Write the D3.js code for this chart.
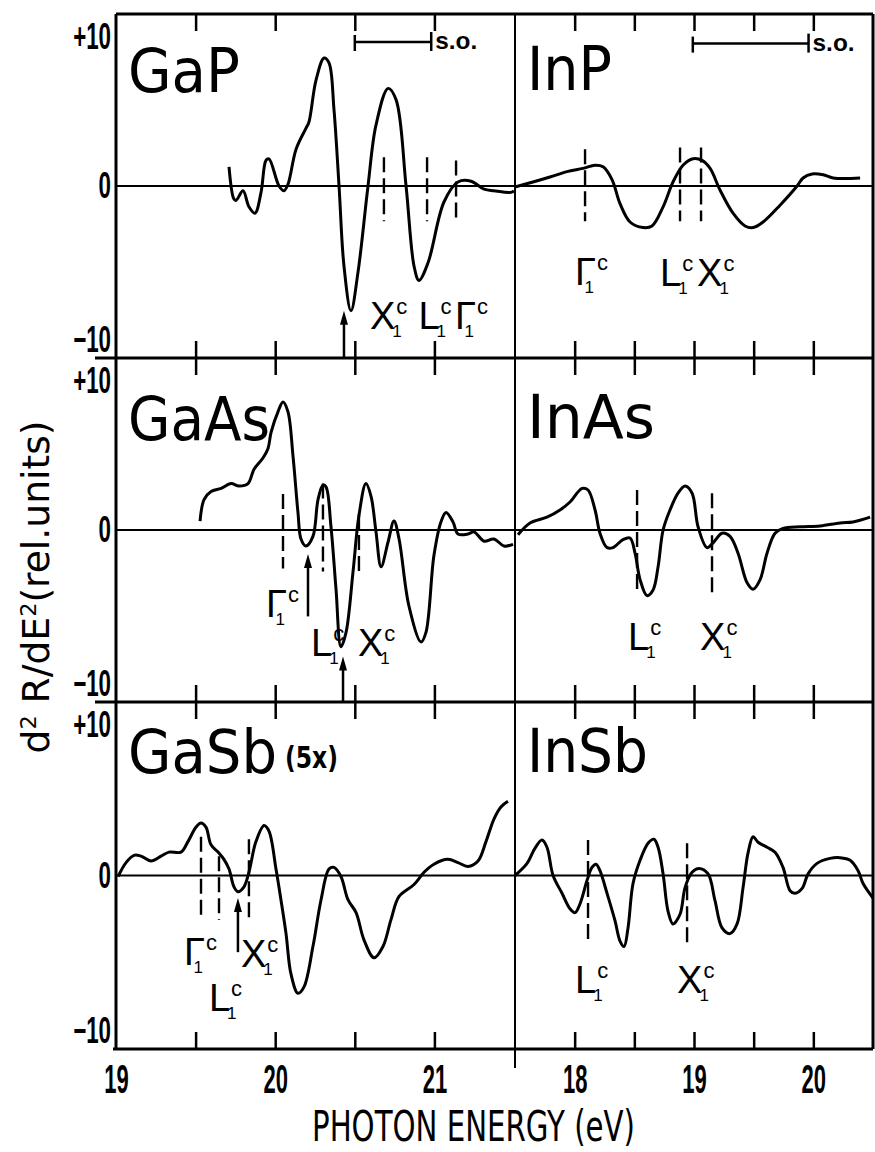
<!DOCTYPE html>
<html>
<head>
<meta charset="utf-8">
<script src="https://cdn.jsdelivr.net/npm/d3@7"></script>
<style>
  body { margin: 0; background: #fff; }
</style>
</head>
<body>
<div id="chart"></div>
<script>
// energy ranges (eV) and y range (rel. units)
const leftRange = [19, 21.5];
const rightRange = [17.5, 20.5];
const yRange = [-10.75, 10.75];
const leftTicks = [19.5, 20, 20.5, 21];
const rightTicks = [18, 18.5, 19, 19.5, 20];
const leftLabels = [19, 20, 21];
const rightLabels = [18, 19, 20];
const yLabels = [-10, 0, 10];

// curves [eV, d2R/dE2]
const gapCurve = [[19.71,1.2],[19.74,-0.8],[19.754,-0.9],[19.798,-0.3],[19.835,-1.3],[19.873,-1.7],[19.911,-0.4],[19.942,1.6],[19.961,1.7],[20.024,0],[20.055,-0.3],[20.08,0.1],[20.131,2.3],[20.193,3.6],[20.212,4.0],[20.256,6.6],[20.307,8.0],[20.338,7.7],[20.369,4.8],[20.401,0],[20.432,-5],[20.476,-7.8],[20.52,-5.4],[20.583,0],[20.633,3.8],[20.709,6.1],[20.759,5.4],[20.822,0],[20.872,-5],[20.903,-5.9],[20.96,-4.8],[21.06,-1.0],[21.148,0.25],[21.23,0.3],[21.312,-0.2],[21.374,-0.3],[21.481,-0.4],[21.5,-0.3]];
const inpCurve = [[17.5,-0.06],[17.651,0.25],[17.793,0.56],[17.936,0.9],[18.07,1.1],[18.171,1.3],[18.238,1.2],[18.313,0.4],[18.38,-1.1],[18.464,-2.25],[18.573,-2.6],[18.648,-2.5],[18.741,-1.3],[18.824,0.25],[18.908,1.3],[18.992,1.7],[19.067,1.6],[19.135,1.1],[19.218,-0.25],[19.327,-1.7],[19.428,-2.5],[19.495,-2.6],[19.579,-2.25],[19.721,-1.2],[19.864,0],[19.914,0.5],[19.99,0.75],[20.082,0.7],[20.166,0.5],[20.392,0.5]];
const gaasCurve = [[19.528,0.56],[19.553,1.9],[19.597,2.4],[19.66,2.6],[19.722,2.9],[19.773,2.75],[19.829,2.9],[19.867,3.8],[19.923,4.5],[19.955,5.1],[19.974,6.1],[20.018,7.4],[20.049,8.0],[20.08,7.4],[20.112,4.6],[20.143,1.1],[20.162,-0.56],[20.193,-1.0],[20.237,-0.4],[20.269,1.9],[20.3,2.8],[20.319,2.7],[20.35,0.25],[20.382,-3.7],[20.413,-7.3],[20.445,-6.4],[20.489,-2.6],[20.526,0.9],[20.57,2.9],[20.602,2.1],[20.633,-0.1],[20.665,-2.3],[20.709,-0.75],[20.746,0.56],[20.778,-0.56],[20.84,-4.75],[20.916,-7.0],[20.947,-6.4],[20.997,-1.6],[21.041,0.5],[21.073,1.1],[21.117,0.5],[21.148,-0.25],[21.211,-0.25],[21.249,-0.12],[21.312,-0.7],[21.374,-0.56],[21.437,-1.0],[21.494,-0.9]];
const inasCurve = [[17.525,-0.3],[17.626,0.44],[17.768,0.8],[17.877,1.25],[17.961,1.75],[18.062,2.6],[18.112,2.5],[18.171,1.25],[18.212,-0.2],[18.271,-1.1],[18.321,-1.1],[18.405,-0.6],[18.464,-0.5],[18.506,-1.45],[18.548,-3.1],[18.606,-4.1],[18.657,-3.75],[18.699,-2.3],[18.741,0],[18.799,1.25],[18.866,2.3],[18.925,2.75],[18.984,2.3],[19.034,0.2],[19.109,-1.1],[19.16,-0.8],[19.235,-0.2],[19.302,-0.4],[19.369,-1.45],[19.445,-3.3],[19.495,-3.7],[19.554,-3.1],[19.612,-1.45],[19.679,-0.2],[19.746,0.1],[19.889,0.2],[20.057,0.25],[20.224,0.44],[20.333,0.5],[20.476,0.8]];
const gasbCurve = [[19.013,-0.06],[19.063,0.8],[19.113,1.25],[19.157,1.2],[19.22,0.9],[19.283,1.2],[19.333,1.45],[19.408,1.45],[19.452,2.1],[19.503,3.0],[19.534,3.25],[19.565,3.0],[19.597,1.9],[19.641,1.45],[19.678,1.0],[19.71,0.4],[19.741,-0.7],[19.766,-1.0],[19.804,-0.7],[19.835,0.2],[19.879,2.1],[19.93,3.1],[19.961,2.75],[20.005,0.4],[20.036,-1.5],[20.068,-3.6],[20.099,-6.1],[20.143,-7.3],[20.181,-6.9],[20.237,-4.4],[20.288,-1.5],[20.338,0.4],[20.369,0.5],[20.413,-0.06],[20.457,-1.5],[20.508,-2.3],[20.558,-4.0],[20.621,-5.1],[20.677,-4.4],[20.727,-2.75],[20.778,-1.3],[20.872,-0.56],[20.935,0.2],[20.997,0.7],[21.085,1.0],[21.148,0.8],[21.211,0.56],[21.274,0.9],[21.324,2.1],[21.374,3.5],[21.418,4.25],[21.462,4.6]];
const insbCurve = [[17.5,0],[17.601,0.75],[17.668,1.7],[17.726,2.2],[17.768,1.75],[17.819,0],[17.894,-1.1],[17.961,-2.06],[18.003,-2.3],[18.045,-1.75],[18.104,-0.3],[18.145,0.5],[18.179,0.7],[18.212,0.3],[18.271,-1.1],[18.338,-2.8],[18.38,-4.06],[18.414,-4.4],[18.447,-3.25],[18.489,-0.5],[18.548,0.94],[18.615,2.0],[18.665,2.25],[18.699,1.75],[18.741,0.1],[18.782,-2.2],[18.824,-3.0],[18.883,-2.4],[18.925,-0.75],[18.984,0.2],[19.042,0.44],[19.118,0.1],[19.176,-1.56],[19.235,-3.25],[19.302,-3.6],[19.361,-3.0],[19.411,-0.75],[19.453,1.4],[19.495,2.4],[19.537,2.06],[19.612,1.75],[19.679,1.44],[19.746,0.5],[19.805,-0.94],[19.847,-1.1],[19.906,-0.8],[19.956,0.1],[20.031,0.75],[20.14,1.06],[20.224,1.1],[20.308,0.94],[20.375,0.3],[20.417,-0.5],[20.5,-1.4]];

// dashed markers [eV, top, bottom]
const gapDashes = [[20.683,1.8,-2.2],[20.954,1.8,-2.2],[21.136,1.6,-2.2]];
const inpDashes = [[18.087,2.3,-2.2],[18.883,2.4,-2.2],[19.059,2.4,-2.2]];
const gaasDashes = [[20.049,2.25,-2.4],[20.3,2.9,-2.6],[20.526,1.0,-2.6]];
const inasDashes = [[18.523,2.5,-4.06],[19.151,2.3,-4.06]];
const gasbDashes = [[19.534,2.4,-2.75],[19.647,1.2,-2.75],[19.835,2.25,-2.75]];
const insbDashes = [[18.112,2.2,-4.2],[18.942,2.0,-4.2]];

// arrows [eV, tail, head]
const gapArrows = [[20.432,-10.75,-7.8]];
const gaasArrows = [[20.206,-5.4,-1.5],[20.426,-10.75,-7.9]];
const gasbArrows = [[19.766,-4.75,-1.4]];

// critical point labels [letter, eV, baseline value]
const gapMarks = [["X",20.595,-8.94],["L",20.9,-8.94],["Γ",21.13,-8.94]];
const inpMarks = [["Γ",18.003,-6.2],["L",18.715,-6.25],["X",19.026,-6.25]];
const gaasMarks = [["Γ",19.942,-5.44],["L",20.225,-7.9],["X",20.52,-7.9]];
const inasMarks = [["L",18.447,-7.5],["X",19.051,-7.5]];
const gasbMarks = [["Γ",19.427,-5.56],["L",19.584,-8.4],["X",19.785,-5.7]];
const insbMarks = [["L",18.003,-7.3],["X",18.858,-7.3]];

// spin-orbit bars [start eV, end eV, level]
const gapSO = [20.5, 20.98, 9.0];
const inpSO = [18.99, 19.96, 8.9];

const svg = d3.select("#chart")
    .append("svg")
    .attr("width", 875)
    .attr("height", 1152)
    .style("font-family", "'Liberation Sans', Arial, sans-serif");

const xL = d3.scaleLinear().domain(leftRange).range([116, 514]);
const xR = d3.scaleLinear().domain(rightRange).range([515, 873]);
const rowTops = [14, 358, 702];
const rowBots = [358, 702, 1049];
const yRow = rowTops.map((t, i) => d3.scaleLinear().domain(yRange).range([rowBots[i], t]));

const panels = [
    { name: "GaP", row: 0, x: xL, curve: gapCurve, dashes: gapDashes, arrows: gapArrows, marks: gapMarks, so: gapSO, len: 112, dy: 78 },
    { name: "InP", row: 0, x: xR, curve: inpCurve, dashes: inpDashes, arrows: [], marks: inpMarks, so: inpSO, len: 85, dy: 76 },
    { name: "GaAs", row: 1, x: xL, curve: gaasCurve, dashes: gaasDashes, arrows: gaasArrows, marks: gaasMarks, len: 142, dy: 82 },
    { name: "InAs", row: 1, x: xR, curve: inasCurve, dashes: inasDashes, arrows: [], marks: inasMarks, len: 128, dy: 80 },
    { name: "GaSb", row: 2, x: xL, curve: gasbCurve, dashes: gasbDashes, arrows: gasbArrows, marks: gasbMarks, len: 149, dy: 71 },
    { name: "InSb", row: 2, x: xR, curve: insbCurve, dashes: insbDashes, arrows: [], marks: insbMarks, len: 121, dy: 70 }
];

// Frame
const frame = svg.append("g").attr("stroke", "#000").attr("fill", "none");
frame.append("line").attr("x1", 116).attr("x2", 116).attr("y1", 14).attr("y2", 1049).attr("stroke-width", 3);
frame.append("line").attr("x1", 116).attr("x2", 873).attr("y1", 14).attr("y2", 14).attr("stroke-width", 3);
frame.append("line").attr("x1", 873).attr("x2", 873).attr("y1", 14).attr("y2", 1049).attr("stroke-width", 3);
frame.append("line").attr("x1", 113).attr("x2", 873).attr("y1", 1049).attr("y2", 1049).attr("stroke-width", 3);
[358, 702].forEach(y => {
    frame.append("line").attr("x1", 95).attr("x2", 873).attr("y1", y).attr("y2", y).attr("stroke-width", 3);
});
frame.append("line").attr("x1", xR(17.5)).attr("x2", xR(17.5)).attr("y1", 14).attr("y2", 1068).attr("stroke-width", 2);

// Zero lines
yRow.forEach(y => {
    frame.append("line").attr("x1", 116).attr("x2", 873)
        .attr("y1", y(0)).attr("y2", y(0)).attr("stroke-width", 2.2);
});

// Inward ticks on every panel border
[[xL, leftTicks], [xR, rightTicks]].forEach(([x, tv]) => {
    rowTops.forEach((t, i) => {
        svg.append("g")
            .attr("transform", `translate(0, ${t})`)
            .call(d3.axisBottom(x).tickValues(tv).tickSize(17).tickFormat(""))
            .call(g => g.select(".domain").remove())
            .selectAll("line").attr("stroke-width", 2.5);
        svg.append("g")
            .attr("transform", `translate(0, ${rowBots[i]})`)
            .call(d3.axisTop(x).tickValues(tv).tickSize(17).tickFormat(""))
            .call(g => g.select(".domain").remove())
            .selectAll("line").attr("stroke-width", 2.5);
    });
});

// Bottom energy labels
[[xL, leftLabels], [xR, rightLabels]].forEach(([x, tv]) => {
    svg.append("g")
        .attr("transform", "translate(0, 1049)")
        .call(d3.axisBottom(x).tickValues(tv).tickSize(0).tickPadding(16).tickFormat(d3.format("d")))
        .call(g => g.select(".domain").remove())
        .selectAll("text")
        .attr("font-family", "'Liberation Sans', Arial, sans-serif")
        .attr("font-size", 40)
        .attr("font-weight", "bold")
        .attr("fill", "#000")
        .attr("transform", "scale(0.55,1)");
});

// y labels per row
yRow.forEach(y => {
    svg.append("g")
        .attr("transform", "translate(111, 0)")
        .call(d3.axisLeft(y).tickValues(yLabels).tickSize(0).tickPadding(0)
            .tickFormat(d => d > 0 ? "+10" : d < 0 ? "\u221210" : "0"))
        .call(g => g.select(".domain").remove())
        .selectAll("text")
        .attr("font-family", "'Liberation Sans', Arial, sans-serif")
        .attr("font-size", 36)
        .attr("font-weight", "bold")
        .attr("fill", "#000")
        .attr("dy", d => d > 0 ? "0.62em" : d < 0 ? "0.15em" : "0.32em")
        .attr("transform", "scale(0.62,1)");
});

// Panels
const line = d3.line().curve(d3.curveCatmullRom.alpha(0.5));

panels.forEach(p => {
    const x = p.x, y = yRow[p.row];
    const g = svg.append("g");

    g.append("path")
        .attr("d", line.x(d => x(d[0])).y(d => y(d[1]))(p.curve))
        .attr("fill", "none")
        .attr("stroke", "#000")
        .attr("stroke-width", 3)
        .attr("stroke-linejoin", "round");

    g.selectAll(".dash")
        .data(p.dashes)
        .enter()
        .append("line")
        .attr("class", "dash")
        .attr("x1", d => x(d[0])).attr("x2", d => x(d[0]))
        .attr("y1", d => y(d[1])).attr("y2", d => y(d[2]))
        .attr("stroke", "#000")
        .attr("stroke-width", 2.4)
        .attr("stroke-dasharray", "15,6");

    p.arrows.forEach(a => {
        const ax = x(a[0]), yh = y(a[2]);
        g.append("line")
            .attr("x1", ax).attr("x2", ax)
            .attr("y1", y(a[1])).attr("y2", yh + 8)
            .attr("stroke", "#000").attr("stroke-width", 2.5);
        g.append("path")
            .attr("d", `M${ax},${yh} L${ax - 4},${yh + 14} L${ax + 4},${yh + 14} Z`)
            .attr("fill", "#000");
    });

    p.marks.forEach(m => {
        const bx = x(m[1]), by = y(m[2]);
        const t = g.append("text").attr("x", bx).attr("y", by)
            .attr("font-size", 38).attr("fill", "#000").text(m[0]);
        const w = t.node().getComputedTextLength();
        g.append("text").attr("x", bx + w + 1).attr("y", by - 15)
            .attr("font-size", 22).attr("fill", "#000").text("c");
        g.append("text").attr("x", m[0] === "Γ" ? bx + w * 0.45 : bx + w - 3).attr("y", by + 8)
            .attr("font-size", 17).attr("fill", "#000").text("1");
    });

    if (p.so) {
        const s0 = x(p.so[0]), s1 = x(p.so[1]), sy = y(p.so[2]);
        g.append("line").attr("x1", s0).attr("x2", s1).attr("y1", sy).attr("y2", sy)
            .attr("stroke", "#000").attr("stroke-width", 2.5);
        g.append("line").attr("x1", s0).attr("x2", s0).attr("y1", sy - 7).attr("y2", sy + 9)
            .attr("stroke", "#000").attr("stroke-width", 2.5);
        g.append("line").attr("x1", s1).attr("x2", s1).attr("y1", sy - 10).attr("y2", sy + 9)
            .attr("stroke", "#000").attr("stroke-width", 2.5);
        g.append("text").attr("x", s1 + 4).attr("y", sy + 7)
            .attr("font-size", 24).attr("font-weight", "bold")
            .attr("textLength", 42).attr("lengthAdjust", "spacingAndGlyphs")
            .text("s.o.");
    }

    // panel name
    g.append("text")
        .attr("x", x.range()[0] + 12)
        .attr("y", rowTops[p.row] + p.dy)
        .attr("font-family", "'DejaVu Sans', sans-serif")
        .attr("font-size", 60)
        .attr("textLength", p.len)
        .attr("lengthAdjust", "spacingAndGlyphs")
        .text(p.name);
});

// GaSb scale factor
svg.append("text")
    .attr("x", 285).attr("y", 768)
    .attr("font-family", "'DejaVu Sans', sans-serif")
    .attr("font-size", 30)
    .attr("font-weight", "bold")
    .attr("textLength", 53)
    .attr("lengthAdjust", "spacingAndGlyphs")
    .text("(5x)");

// Axis titles
const yt = svg.append("text")
    .attr("transform", "translate(49, 587) rotate(-90)")
    .attr("text-anchor", "middle")
    .attr("font-family", "'DejaVu Sans', sans-serif")
    .attr("font-size", 37)
    .attr("textLength", 333)
    .attr("lengthAdjust", "spacingAndGlyphs");
yt.append("tspan").text("d");
yt.append("tspan").attr("font-size", 22).attr("dy", -13).text("2");
yt.append("tspan").attr("dy", 13).text(" R/dE");
yt.append("tspan").attr("font-size", 22).attr("dy", -13).text("2");
yt.append("tspan").attr("dy", 13).text("(rel.units)");

svg.append("text")
    .attr("x", 312).attr("y", 1141)
    .attr("font-family", "'DejaVu Sans', sans-serif")
    .attr("font-size", 42)
    .attr("textLength", 323)
    .attr("lengthAdjust", "spacingAndGlyphs")
    .text("PHOTON ENERGY  (eV)");
</script>
</body>
</html>
